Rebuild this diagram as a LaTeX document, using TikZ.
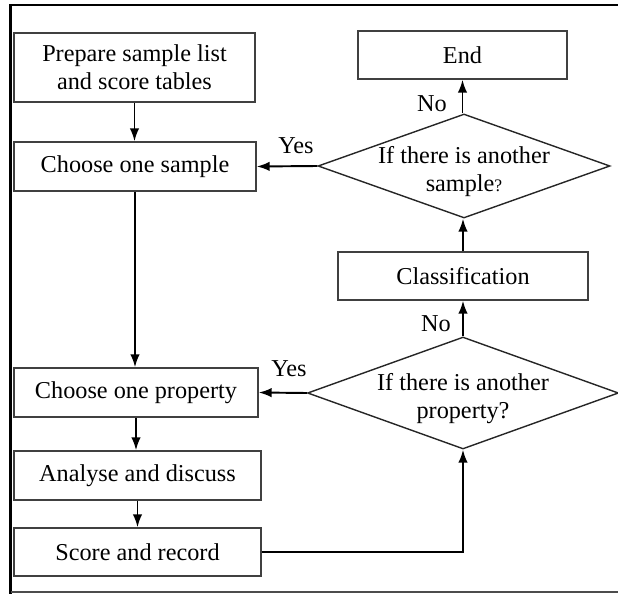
\documentclass[tikz,border=0pt]{standalone}
\usepackage{fontspec}
\setmainfont{Liberation Serif}
\usetikzlibrary{arrows.meta,positioning,shapes.geometric}

\tikzset{
    stepbox/.style={draw=black!75,line width=0.8pt,align=center,inner sep=0pt,
        font=\fontsize{13.8}{15.9}\selectfont},
    decision/.style={diamond,draw=black!85,line width=0.8pt,inner sep=0pt},
    flow/.style={-{Latex[length=0.26cm,width=0.19cm]},line width=1.1pt},
    lbl/.style={font=\fontsize{13.8}{15.9}\selectfont,inner sep=0pt,align=center}
}

\begin{document}
\begin{tikzpicture}[x=0.02cm,y=-0.02cm]
    \useasboundingbox (0,0) rectangle (618,594);

    % frame
    \draw[line width=1.6pt] (10.5,594) -- (10.5,5) -- (618,5);
    \draw[black!70,line width=0.6pt] (10.5,592) -- (618,592);

    % left column
    \node[stepbox,minimum width=241*0.02cm,minimum height=69*0.02cm] (prep) at (134.5,67.5)
        {Prepare sample list\\and score tables};
    \node[stepbox,minimum width=242*0.02cm,minimum height=49*0.02cm] (samp) at (135,166.5)
        {Choose one sample};
    \node[stepbox,minimum width=244*0.02cm,minimum height=49*0.02cm] (prop) at (136,392.5)
        {Choose one property};
    \node[stepbox,minimum width=247*0.02cm,minimum height=49*0.02cm] (anal) at (137.5,475.5)
        {Analyse and discuss};
    \node[stepbox,minimum width=247*0.02cm,minimum height=48*0.02cm] (score) at (137.5,552)
        {Score and record};

    % right column
    \node[stepbox,minimum width=209*0.02cm,minimum height=48*0.02cm] (end) at (462.5,55)
        {End};
    \node[decision,minimum width=292*0.02cm,minimum height=104*0.02cm] (qsamp) at (464,166) {};
    \node[lbl] (qsamptxt) at (464,172)
        {If there is another\\sample{\fontsize{10}{12}\selectfont ?}};
    \node[stepbox,minimum width=250*0.02cm,minimum height=48*0.02cm] (class) at (463,276)
        {Classification};
    \node[decision,minimum width=311*0.02cm,minimum height=112*0.02cm] (qprop) at (463,393) {};
    \node[lbl] (qproptxt) at (463,399) {If there is another\\property?};

    % connectors
    \draw[flow] (prep.south) -- (prep.south |- samp.north);
    \draw[flow] (samp.south) -- (samp.south |- prop.north);
    \draw[flow] (prop.south) -- (prop.south |- anal.north);
    \draw[flow] (anal.south) -- (anal.south |- score.north);
    \draw[flow] (score.east) -| (qprop.south);
    \draw[flow] (qprop.west) -- (prop.east);
    \draw[flow] (qprop.north) -- (class.south);
    \draw[flow] (class.north) -- (class.north |- qsamp.south);
    \draw[flow] (qsamp.west) -- (samp.east);
    \draw[flow] (qsamp.north -| end.south) -- (end.south);

    % labels
    \node[lbl] (yes1) at (296,146) {Yes};
    \node[lbl] (yes2) at (289,369) {Yes};
    \node[lbl] (no1) at (432,104) {No};
    \node[lbl] (no2) at (436,324) {No};
\end{tikzpicture}
\end{document}
